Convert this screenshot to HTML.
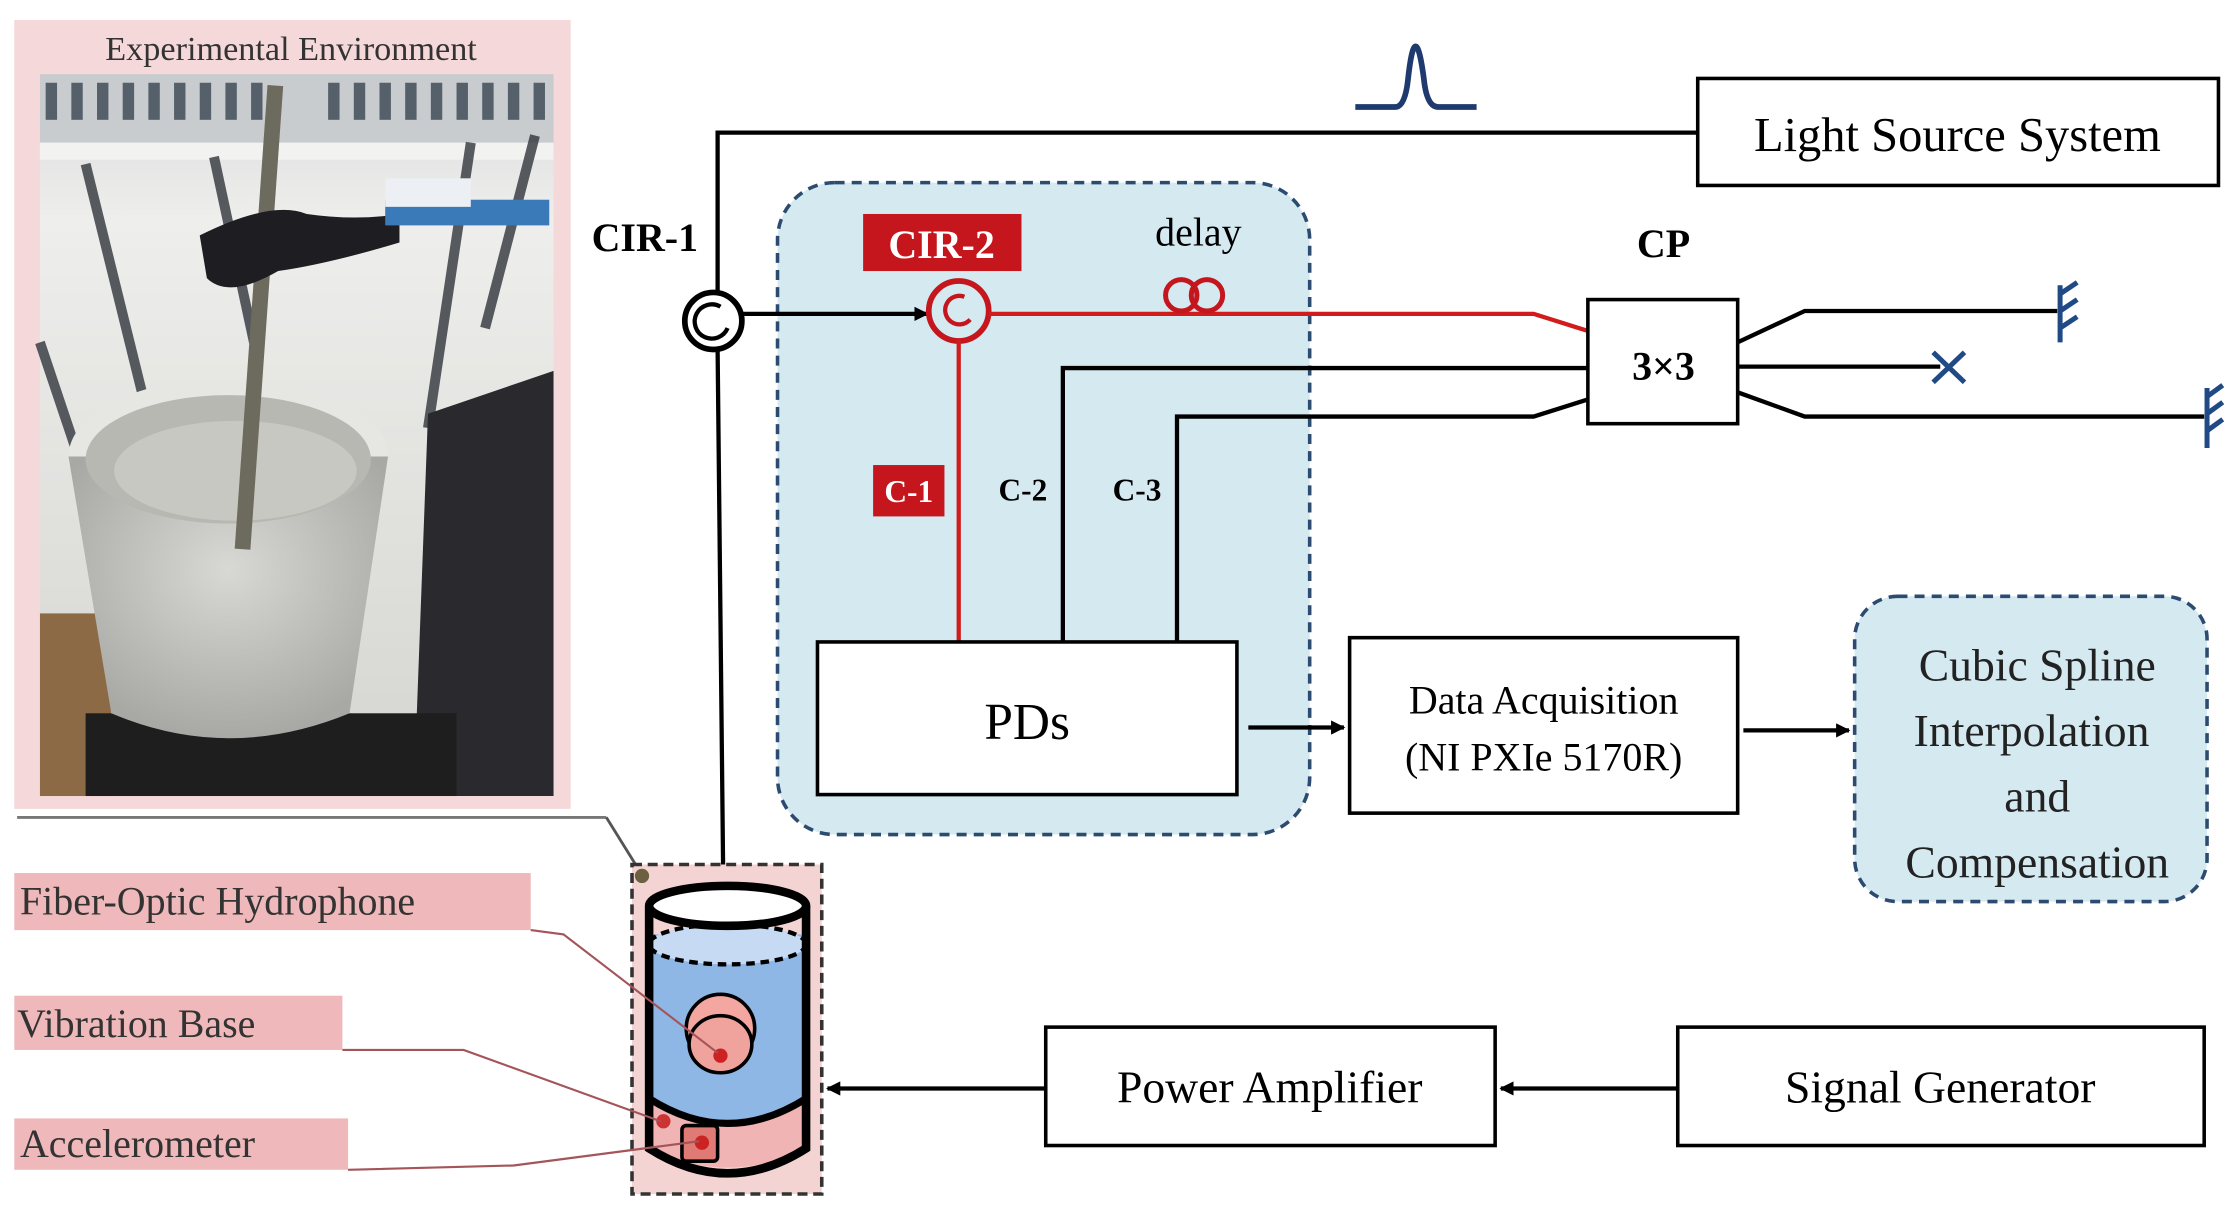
<!DOCTYPE html>
<html><head><meta charset="utf-8"><style>html,body{margin:0;padding:0;background:#fff}svg{display:block}</style></head>
<body>
<svg width="2237" height="1214" viewBox="0 0 1568 851" preserveAspectRatio="none" xmlns="http://www.w3.org/2000/svg" font-family="Liberation Serif, serif">
<defs>
<marker id="ar" markerWidth="10" markerHeight="10" refX="9" refY="5" orient="auto" markerUnits="userSpaceOnUse"><path d="M0,0 L10,5 L0,10 z" fill="#000"/></marker>
<linearGradient id="wall" x1="0" y1="0" x2="0" y2="1"><stop offset="0" stop-color="#d8dadb"/><stop offset="0.2" stop-color="#eeeeec"/><stop offset="1" stop-color="#d4d4d0"/></linearGradient>
<radialGradient id="pot" cx="0.5" cy="0.4" r="0.6"><stop offset="0" stop-color="#d8d8d4"/><stop offset="1" stop-color="#a8a8a4"/></radialGradient>
</defs>
<!-- photo panel -->
<rect x="10" y="14" width="390" height="553" fill="#f5d9da"/>
<text x="204" y="42" font-size="24" text-anchor="middle" fill="#333">Experimental Environment</text>
<rect x="28" y="52" width="360" height="506" fill="url(#wall)"/>
<rect x="28" y="52" width="360" height="50" fill="#c9cccf"/>
<g fill="#56606a">
<rect x="32" y="58" width="8" height="26"/><rect x="50" y="58" width="8" height="26"/><rect x="68" y="58" width="8" height="26"/><rect x="86" y="58" width="8" height="26"/><rect x="104" y="58" width="8" height="26"/><rect x="122" y="58" width="8" height="26"/><rect x="140" y="58" width="8" height="26"/><rect x="158" y="58" width="8" height="26"/><rect x="176" y="58" width="8" height="26"/><rect x="230" y="58" width="8" height="26"/><rect x="248" y="58" width="8" height="26"/><rect x="266" y="58" width="8" height="26"/><rect x="284" y="58" width="8" height="26"/><rect x="302" y="58" width="8" height="26"/><rect x="320" y="58" width="8" height="26"/><rect x="338" y="58" width="8" height="26"/><rect x="356" y="58" width="8" height="26"/><rect x="374" y="58" width="8" height="26"/>
</g>
<rect x="28" y="100" width="360" height="12" fill="#f2f2f0"/>
<g stroke="#3c4046" stroke-width="7" opacity="0.85">
<line x1="60" y1="115" x2="118" y2="350"/><line x1="150" y1="110" x2="178" y2="240"/><line x1="330" y1="100" x2="300" y2="300"/><line x1="375" y1="95" x2="340" y2="230"/><line x1="28" y1="240" x2="75" y2="380"/>
</g>
<rect x="28" y="430" width="50" height="128" fill="#8b6a45"/>
<path d="M300,290 L388,260 L388,558 L290,558 Z" fill="#2a2a2e"/>
<rect x="60" y="500" width="260" height="58" fill="#1e1e1e"/>
<ellipse cx="160" cy="320" rx="112" ry="55" fill="#e6e6e2"/>
<path d="M48,320 L78,500 Q160,535 245,500 L272,320 Z" fill="url(#pot)"/>
<ellipse cx="160" cy="322" rx="100" ry="45" fill="#b8b8b2"/>
<ellipse cx="165" cy="330" rx="85" ry="35" fill="#c8c8c2"/>
<line x1="193" y1="60" x2="170" y2="385" stroke="#6d6a5e" stroke-width="11"/>
<path d="M140,165 Q190,140 215,150 Q250,155 280,150 L280,170 Q230,185 195,190 Q160,210 145,195 Z" fill="#1d1d22"/>
<rect x="270" y="140" width="115" height="18" fill="#3b7ab8"/>
<rect x="270" y="125" width="60" height="20" fill="#eceff3"/>
<line x1="12" y1="573" x2="425" y2="573" stroke="#777" stroke-width="2"/>
<line x1="425" y1="573" x2="448" y2="610" stroke="#555" stroke-width="2"/>
<!-- blue region -->
<rect x="545" y="128" width="373" height="457" rx="40" fill="#d5e9f1" stroke="#2b4b70" stroke-width="2.5" stroke-dasharray="7,5"/>
<rect x="1300" y="418" width="247" height="214" rx="30" fill="#d5e9f1" stroke="#2b4b70" stroke-width="2.5" stroke-dasharray="7,5"/>
<text font-size="32" text-anchor="middle" fill="#222"><tspan x="1428" y="477">Cubic Spline</tspan><tspan x="1424" y="523">Interpolation</tspan><tspan x="1428" y="569">and</tspan><tspan x="1428" y="615">Compensation</tspan></text>
<!-- light source -->
<rect x="1190" y="55" width="365" height="75" fill="#fff" stroke="#000" stroke-width="2.5"/>
<text x="1372" y="106" font-size="34" text-anchor="middle">Light Source System</text>
<path d="M950,75 L978,75 Q985,75 987,55 Q992,10 998,55 Q1000,75 1008,75 L1035,75" fill="none" stroke="#1f3a6e" stroke-width="4"/>
<polyline points="1190,93 503,93 503,205" fill="none" stroke="#000" stroke-width="3"/>
<line x1="503" y1="245" x2="507" y2="622" stroke="#000" stroke-width="3"/>
<!-- CIR-1 -->
<circle cx="500" cy="225" r="20" fill="#fff" stroke="#000" stroke-width="4"/>
<path d="M510,230 A12,12 0 1 1 505,215" fill="none" stroke="#000" stroke-width="3"/>
<text x="452" y="176" font-size="28" font-weight="bold" text-anchor="middle">CIR-1</text>
<line x1="520" y1="220" x2="650" y2="220" stroke="#000" stroke-width="3" marker-end="url(#ar)"/>
<!-- CIR-2 -->
<rect x="605" y="150" width="111" height="40" fill="#c4161c"/>
<text x="660" y="181" font-size="28" font-weight="bold" fill="#fff" text-anchor="middle">CIR-2</text>
<circle cx="672" cy="218" r="21" fill="none" stroke="#c4161c" stroke-width="4"/>
<path d="M680,224 A10,10 0 1 1 676,208" fill="none" stroke="#c4161c" stroke-width="3"/>
<polyline points="693,220 1075,220 1113,232" fill="none" stroke="#d01c1c" stroke-width="3"/>
<line x1="672" y1="238" x2="672" y2="450" stroke="#d01c1c" stroke-width="3"/>
<circle cx="828" cy="207" r="11" fill="none" stroke="#c4161c" stroke-width="3.5"/>
<circle cx="846" cy="207" r="11" fill="none" stroke="#c4161c" stroke-width="3.5"/>
<text x="840" y="172" font-size="28" text-anchor="middle">delay</text>
<rect x="612" y="326" width="50" height="36" fill="#c4161c"/>
<text x="637" y="352" font-size="22" font-weight="bold" fill="#fff" text-anchor="middle">C-1</text>
<text x="717" y="351" font-size="22" font-weight="bold" text-anchor="middle">C-2</text>
<text x="797" y="351" font-size="22" font-weight="bold" text-anchor="middle">C-3</text>
<polyline points="745,450 745,258 1113,258" fill="none" stroke="#000" stroke-width="3"/>
<polyline points="825,450 825,292 1075,292 1113,280" fill="none" stroke="#000" stroke-width="3"/>
<!-- CP -->
<text x="1166" y="180" font-size="28" font-weight="bold" text-anchor="middle">CP</text>
<rect x="1113" y="210" width="105" height="87" fill="#fff" stroke="#000" stroke-width="2.5"/>
<text x="1166" y="266" font-size="28" font-weight="bold" text-anchor="middle">3×3</text>
<polyline points="1218,240 1265,218 1442,218" fill="none" stroke="#000" stroke-width="3"/>
<polyline points="1218,257 1360,257" fill="none" stroke="#000" stroke-width="3"/>
<polyline points="1218,275 1265,292 1545,292" fill="none" stroke="#000" stroke-width="3"/>
<g stroke="#1f4a86" stroke-width="3.5" fill="none">
<line x1="1444" y1="200" x2="1444" y2="240"/><line x1="1444" y1="206" x2="1456" y2="198"/><line x1="1444" y1="218" x2="1456" y2="210"/><line x1="1444" y1="230" x2="1456" y2="222"/>
<line x1="1547" y1="272" x2="1547" y2="314"/><line x1="1547" y1="278" x2="1558" y2="270"/><line x1="1547" y1="290" x2="1558" y2="282"/><line x1="1547" y1="302" x2="1558" y2="294"/>
<line x1="1355" y1="247" x2="1377" y2="268"/><line x1="1377" y1="247" x2="1355" y2="268"/>
</g>
<!-- PDs & DAQ -->
<rect x="573" y="450" width="294" height="107" fill="#fff" stroke="#000" stroke-width="2.5"/>
<text x="720" y="518" font-size="36" text-anchor="middle">PDs</text>
<line x1="875" y1="510" x2="942" y2="510" stroke="#000" stroke-width="3" marker-end="url(#ar)"/>
<rect x="946" y="447" width="272" height="123" fill="#fff" stroke="#000" stroke-width="2.5"/>
<text font-size="28" text-anchor="middle"><tspan x="1082" y="500">Data Acquisition</tspan><tspan x="1082" y="540">(NI PXIe 5170R)</tspan></text>
<line x1="1222" y1="512" x2="1296" y2="512" stroke="#000" stroke-width="3" marker-end="url(#ar)"/>
<!-- bottom row -->
<rect x="1176" y="720" width="369" height="83" fill="#fff" stroke="#000" stroke-width="2.5"/>
<text x="1360" y="773" font-size="32" text-anchor="middle">Signal Generator</text>
<rect x="733" y="720" width="315" height="83" fill="#fff" stroke="#000" stroke-width="2.5"/>
<text x="890" y="773" font-size="32" text-anchor="middle">Power Amplifier</text>
<line x1="1176" y1="763" x2="1052" y2="763" stroke="#000" stroke-width="3" marker-end="url(#ar)"/>
<line x1="733" y1="763" x2="580" y2="763" stroke="#000" stroke-width="3" marker-end="url(#ar)"/>
<!-- cylinder -->
<rect x="443" y="606" width="133" height="231" fill="#f4d3d3" stroke="#333" stroke-width="2.5" stroke-dasharray="7,4"/>
<circle cx="450" cy="614" r="5" fill="#6b6040"/>
<path d="M455,655 L455,695 L455,770 Q510,800 565,770 L565,655 Z" fill="#8fb7e6"/>
<ellipse cx="510" cy="662" rx="55" ry="14" fill="#c6dbf3" stroke="#000" stroke-width="3" stroke-dasharray="6,4"/>
<path d="M455,770 Q510,805 565,770 L565,805 Q510,832 455,805 Z" fill="#f0b4b4"/>
<path d="M455,635 L455,805 Q510,840 565,805 L565,635" fill="none" stroke="#000" stroke-width="6"/>
<ellipse cx="510" cy="635" rx="55" ry="14" fill="#fff" stroke="#000" stroke-width="6"/>
<path d="M455,770 Q510,805 565,770" fill="none" stroke="#000" stroke-width="5"/>
<ellipse cx="505" cy="721" rx="24" ry="24" fill="#f3a7a0" stroke="#000" stroke-width="2.5"/>
<ellipse cx="505" cy="732" rx="22" ry="20" fill="#f0a39c" stroke="#000" stroke-width="2.5"/>
<circle cx="505" cy="740" r="5" fill="#c22"/>
<circle cx="465" cy="786" r="5" fill="#c33"/>
<rect x="478" y="789" width="25" height="25" rx="3" fill="#e07a74" stroke="#000" stroke-width="2.5"/>
<circle cx="492" cy="801" r="5" fill="#c22"/>
<!-- labels -->
<g fill="#efb9bb"><rect x="10" y="612" width="362" height="40"/><rect x="10" y="698" width="230" height="38"/><rect x="10" y="784" width="234" height="36"/></g>
<g font-size="28" fill="#333"><text x="14" y="641">Fiber-Optic Hydrophone</text><text x="12" y="727">Vibration Base</text><text x="14" y="811">Accelerometer</text></g>
<g stroke="#a3555a" stroke-width="1.5" fill="none">
<polyline points="372,652 395,655 503,738"/>
<polyline points="240,736 325,736 463,786"/>
<polyline points="244,820 360,817 490,800"/>
</g>
</svg>
</body></html>
